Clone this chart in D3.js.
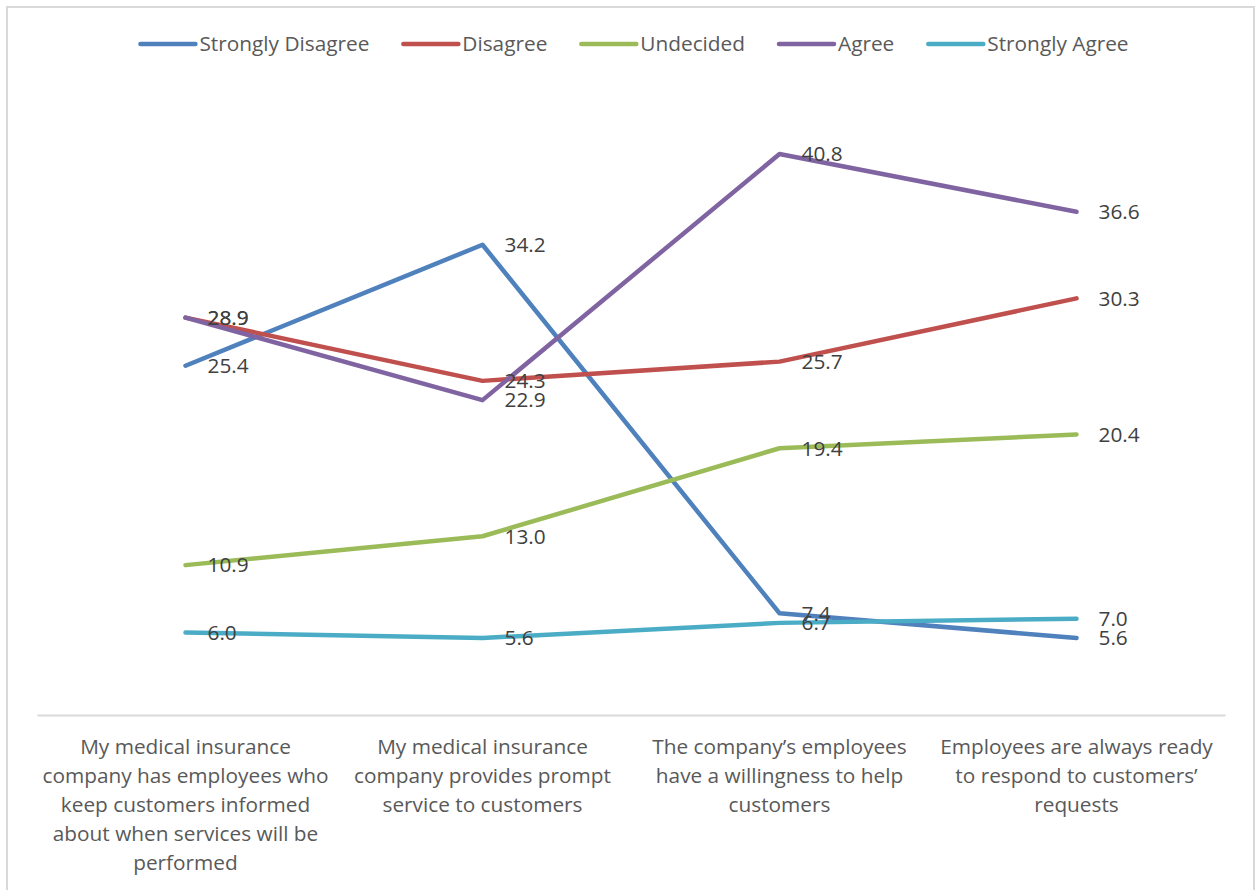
<!DOCTYPE html>
<html>
<head>
<meta charset="utf-8">
<script src="https://cdn.jsdelivr.net/npm/d3@7"></script>
<style>
  html, body { margin: 0; padding: 0; background: #fff; }
  svg { display: block; }
  text { font-family: "Open Sans", Lato, sans-serif; }
</style>
</head>
<body>
<svg id="chart" width="1257" height="890"></svg>
<script>
// ---- data ----
const categories = [
  ["My medical insurance", "company has employees who", "keep customers informed", "about when services will be", "performed"],
  ["My medical insurance", "company provides prompt", "service to customers"],
  ["The company\u2019s employees", "have a willingness to help", "customers"],
  ["Employees are always ready", "to respond to customers\u2019", "requests"]
];
const seriesNames = ["Strongly Disagree", "Disagree", "Undecided", "Agree", "Strongly Agree"];
const stronglyDisagree = [25.4, 34.2, 7.4, 5.6];
const disagree = [28.9, 24.3, 25.7, 30.3];
const undecided = [10.9, 13.0, 19.4, 20.4];
const agree = [28.9, 22.9, 40.8, 36.6];
const stronglyAgree = [6.0, 5.6, 6.7, 7.0];
const seriesColors = ["#4F81BD", "#C0504D", "#9BBB59", "#8064A2", "#4BACC6"];

const seriesValues = [stronglyDisagree, disagree, undecided, agree, stronglyAgree];

// ---- layout ----
const svg = d3.select("#chart");
const FS = "20.8px";

// outer border
svg.append("rect")
  .attr("x", 7).attr("y", 7).attr("width", 1247).attr("height", 900)
  .attr("fill", "none").attr("stroke", "#d9d9d9").attr("stroke-width", 2);

const plotLeft = 37, plotRight = 1225, plotBottom = 715;
const x = d3.scaleBand().domain(d3.range(categories.length)).range([plotLeft, plotRight]);
const y = d3.scaleLinear().domain([0, 50]).range([plotBottom, plotBottom - 50 * 13.75]);

// x axis
const xAxis = d3.axisBottom(x).tickSize(0).tickFormat("");
const gx = svg.append("g").attr("transform", `translate(0,${plotBottom})`).call(xAxis);
gx.select(".domain").attr("stroke", "#d9d9d9").attr("stroke-width", 2);

// category labels
const catG = svg.append("g");
categories.forEach((lines, i) => {
  const t = catG.append("text")
    .attr("x", x(i) + x.bandwidth() / 2)
    .attr("y", 754)
    .attr("text-anchor", "middle")
    .attr("fill", "#595959")
    .style("font-size", FS);
  lines.forEach((ln, j) => {
    t.append("tspan").attr("x", x(i) + x.bandwidth() / 2).attr("dy", j === 0 ? 0 : 29).text(ln);
  });
});

const cx = i => x(i) + x.bandwidth() / 2;
const line = d3.line().x((d, i) => cx(i)).y(d => y(d));

seriesValues.forEach((vals, s) => {
  svg.append("path")
    .datum(vals)
    .attr("d", line)
    .attr("fill", "none")
    .attr("stroke", seriesColors[s])
    .attr("stroke-width", 4.5)
    .attr("stroke-linejoin", "round")
    .attr("stroke-linecap", "round");
});

// data labels
seriesValues.forEach((vals, s) => {
  svg.append("g").selectAll("text")
    .data(vals)
    .join("text")
    .attr("x", (d, i) => cx(i) + 22)
    .attr("y", d => y(d))
    .attr("dy", "0.35em")
    .attr("fill", "#404040")
    .style("font-size", FS)
    .text(d => d.toFixed(1));
});

// legend
const legend = svg.append("g");
let lx = 0;
seriesNames.forEach((name, s) => {
  const g = legend.append("g");
  g.append("line")
    .attr("x1", 0).attr("x2", 55).attr("y1", 0).attr("y2", 0)
    .attr("stroke", seriesColors[s]).attr("stroke-width", 4.5).attr("stroke-linecap", "round");
  const t = g.append("text")
    .attr("x", 59).attr("y", 0).attr("dy", "0.35em")
    .attr("fill", "#595959").style("font-size", FS).text(name);
  const w = t.node().getComputedTextLength();
  g.attr("transform", `translate(${lx},44)`);
  lx += 59 + w + 34;
});
const totalW = lx - 34;
legend.attr("transform", `translate(${634.5 - totalW / 2},0)`);
</script>
</body>
</html>
